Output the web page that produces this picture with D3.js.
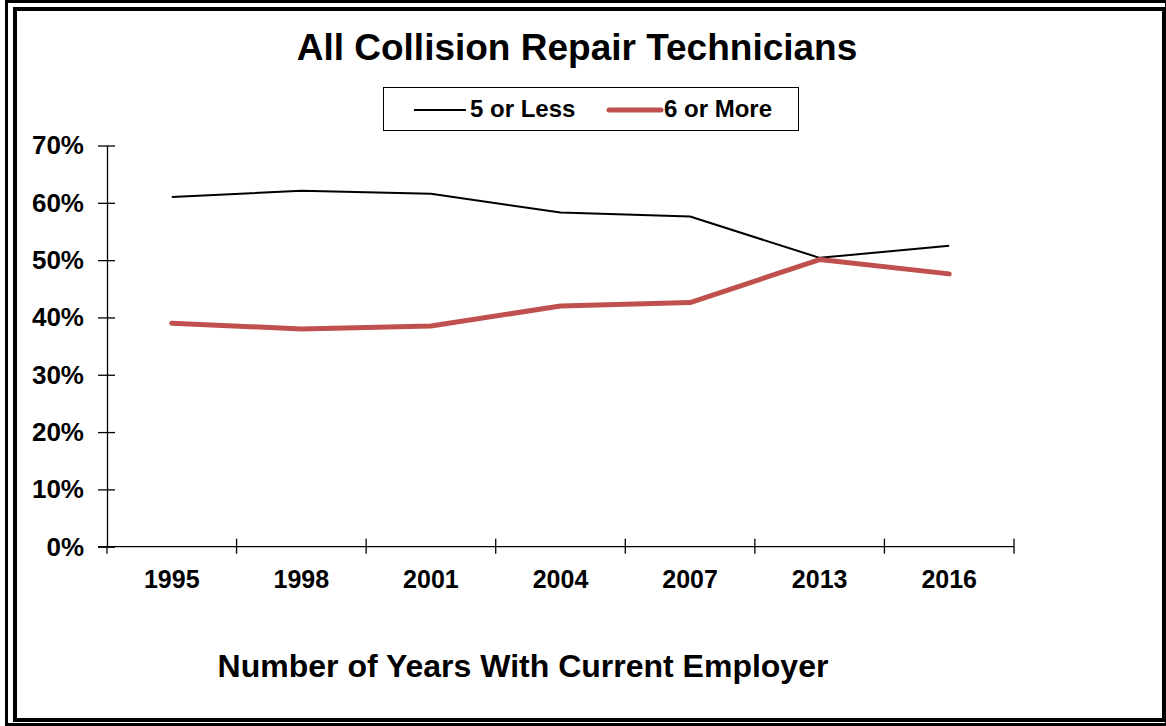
<!DOCTYPE html>
<html>
<head>
<meta charset="utf-8">
<script src="https://cdnjs.cloudflare.com/ajax/libs/d3/7.8.5/d3.min.js"></script>
<style>
  body { margin: 0; background: #fff; }
  svg { display: block; font-family: "Liberation Sans", Arial, sans-serif; }
</style>
</head>
<body>
<svg id="mainsvg" width="1166" height="726"></svg>
<script>
// chart data
var years = ["1995", "1998", "2001", "2004", "2007", "2013", "2016"];
var fiveOrLess = [61.0, 62.1, 61.6, 58.3, 57.6, 50.4, 52.5];
var sixOrMore = [39.0, 38.0, 38.5, 42.0, 42.6, 50.1, 47.6];
var yTicks = [0, 10, 20, 30, 40, 50, 60, 70];
var seriesNames = ["5 or Less", "6 or More"];

var svg = d3.select("#mainsvg");

// frame (double border)
svg.append("rect")
    .attr("x", 6.5).attr("y", 1.5)
    .attr("width", 1160).attr("height", 723)
    .attr("fill", "none")
    .attr("stroke", "#000")
    .attr("stroke-width", 3);
svg.append("rect")
    .attr("x", 15).attr("y", 9)
    .attr("width", 1149).attr("height", 711)
    .attr("fill", "#fff")
    .attr("stroke", "#000")
    .attr("stroke-width", 4);

var plotLeft = 107, plotRight = 1014, plotTop = 145.5, plotBottom = 546.7;

var x = d3.scaleBand().domain(years).range([plotLeft, plotRight]);
var y = d3.scaleLinear().domain([0, 70]).range([plotBottom, plotTop]);

// title
svg.append("text")
    .attr("x", 577).attr("y", 60)
    .attr("text-anchor", "middle")
    .style("font-size", "37px")
    .style("font-weight", "bold")
    .text("All Collision Repair Technicians");

// y axis
var yAxis = d3.axisLeft(y)
    .tickValues(yTicks)
    .tickSize(0)
    .tickPadding(23)
    .tickFormat(function(d){ return d + "%"; });
var gy = svg.append("g")
    .attr("transform", "translate(" + plotLeft + ",0)")
    .call(yAxis);
gy.select(".domain").attr("stroke", "#000").attr("stroke-width", 1.3);
gy.selectAll(".tick line").remove();
gy.selectAll(".tick").append("line")
    .attr("x1", -9).attr("x2", 8)
    .attr("stroke", "#000").attr("stroke-width", 1.3);
gy.selectAll(".tick text")
    .style("font-size", "26px")
    .style("font-weight", "bold")
    .style("font-family", "'Liberation Sans', Arial, sans-serif")
    .attr("fill", "#000");

// x axis
var gx = svg.append("g")
    .attr("transform", "translate(0," + plotBottom + ")");
gx.append("line")
    .attr("x1", plotLeft - 9).attr("x2", plotRight)
    .attr("stroke", "#000").attr("stroke-width", 1.3);
var edges = years.map(function(d){ return x(d); }).concat([plotRight]);
gx.selectAll(".xtick")
    .data(edges.slice(1))
    .enter().append("line")
    .attr("x1", function(d){ return d; })
    .attr("x2", function(d){ return d; })
    .attr("y1", -8).attr("y2", 7)
    .attr("stroke", "#000").attr("stroke-width", 1.3);
gx.append("line")
    .attr("x1", plotLeft).attr("x2", plotLeft)
    .attr("y1", 0).attr("y2", 7)
    .attr("stroke", "#000").attr("stroke-width", 1.3);
gx.selectAll(".xlabel")
    .data(years)
    .enter().append("text")
    .attr("x", function(d){ return x(d) + x.bandwidth() / 2; })
    .attr("y", 41)
    .attr("text-anchor", "middle")
    .style("font-size", "25px")
    .style("font-weight", "bold")
    .text(function(d){ return d; });

// axis title
svg.append("text")
    .attr("x", 523).attr("y", 677)
    .attr("text-anchor", "middle")
    .style("font-size", "32px")
    .style("font-weight", "bold")
    .text("Number of Years With Current Employer");

// lines
var line = d3.line()
    .x(function(d, i){ return x(years[i]) + x.bandwidth() / 2; })
    .y(function(d){ return y(d); });

svg.append("path")
    .datum(fiveOrLess)
    .attr("d", line)
    .attr("fill", "none")
    .attr("stroke", "#000")
    .attr("stroke-width", 2)
    .attr("stroke-linejoin", "round");

svg.append("path")
    .datum(sixOrMore)
    .attr("d", line)
    .attr("fill", "none")
    .attr("stroke", "#C0504D")
    .attr("stroke-width", 5)
    .attr("stroke-linejoin", "round")
    .attr("stroke-linecap", "round");

// legend
var legend = svg.append("g");
legend.append("rect")
    .attr("x", 383.5).attr("y", 87.5)
    .attr("width", 415).attr("height", 43)
    .attr("fill", "#fff")
    .attr("stroke", "#000")
    .attr("stroke-width", 1);
legend.append("line")
    .attr("x1", 414).attr("x2", 466).attr("y1", 110).attr("y2", 110)
    .attr("stroke", "#000").attr("stroke-width", 2);
legend.append("text")
    .attr("x", 470).attr("y", 117)
    .style("font-size", "24px").style("font-weight", "bold")
    .text(seriesNames[0]);
legend.append("line")
    .attr("x1", 609).attr("x2", 661).attr("y1", 110).attr("y2", 110)
    .attr("stroke", "#C0504D").attr("stroke-width", 5)
    .attr("stroke-linecap", "round");
legend.append("text")
    .attr("x", 664).attr("y", 117)
    .style("font-size", "24px").style("font-weight", "bold")
    .text(seriesNames[1]);
</script>
</body>
</html>
